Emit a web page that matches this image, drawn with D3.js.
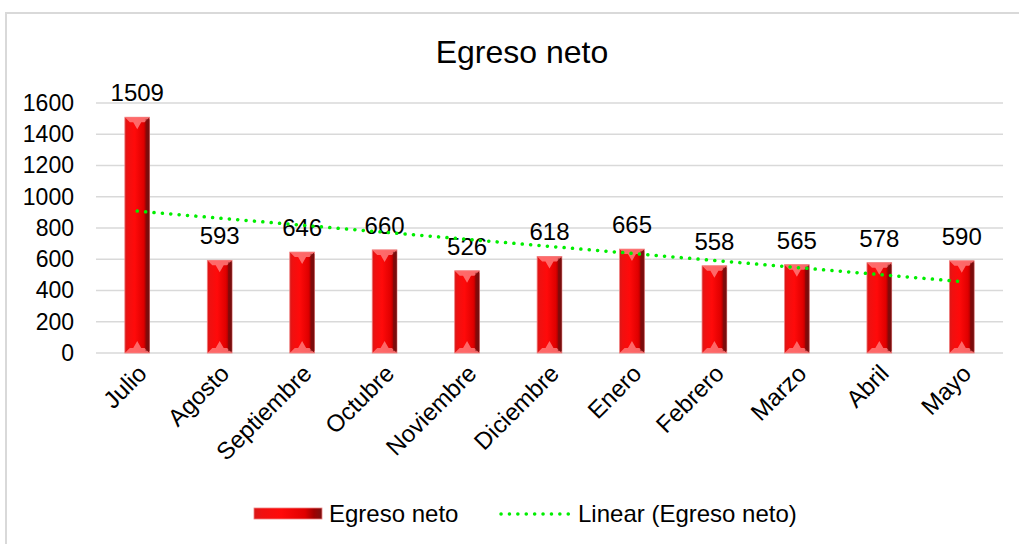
<!DOCTYPE html>
<html>
<head>
<meta charset="utf-8">
<script src="https://cdn.jsdelivr.net/npm/d3@7"></script>
<style>
  body { margin: 0; background: #fff; }
  text { font-family: "Liberation Sans", Arial, sans-serif; fill: #000; }
</style>
</head>
<body>
<script>
const months = ['Julio', 'Agosto', 'Septiembre', 'Octubre', 'Noviembre', 'Diciembre', 'Enero', 'Febrero', 'Marzo', 'Abril', 'Mayo']
const egreso = [1509, 593, 646, 660, 526, 618, 665, 558, 565, 578, 590]
const yTicks = [0, 200, 400, 600, 800, 1000, 1200, 1400, 1600]

const width = 1019
const height = 544
const padL = 96, padR = 1003, padT = 103, padB = 353

const svg = d3.select('body').append('svg').attr('width', width).attr('height', height)

// outer chart border
svg.append('rect').attr('x', 6).attr('y', 13).attr('width', 1030).attr('height', 560)
  .attr('fill', 'none').attr('stroke', '#d9d9d9').attr('stroke-width', 2)

const defs = svg.append('defs')
const grad = defs.append('linearGradient').attr('id', 'barGrad').attr('x1', 0).attr('x2', 1).attr('y1', 0).attr('y2', 0)
grad.append('stop').attr('offset', '0%').attr('stop-color', '#d81818')
grad.append('stop').attr('offset', '12%').attr('stop-color', '#f01010')
grad.append('stop').attr('offset', '40%').attr('stop-color', '#ff0a0a')
grad.append('stop').attr('offset', '75%').attr('stop-color', '#e00000')
grad.append('stop').attr('offset', '88%').attr('stop-color', '#a00000')
grad.append('stop').attr('offset', '100%').attr('stop-color', '#7a1010')

const x = d3.scaleBand().domain(months).range([padL, padR]).paddingInner(0.7).paddingOuter(0.35)
const y = d3.scaleLinear().domain([0, 1600]).range([padB, padT])

// grid
svg.append('g').selectAll('line').data(yTicks).enter().append('line')
  .attr('x1', padL).attr('x2', padR)
  .attr('y1', d => y(d)).attr('y2', d => y(d))
  .attr('stroke', '#d9d9d9').attr('stroke-width', 1.3)

// y axis labels
const yAxis = d3.axisLeft(y).tickValues(yTicks).tickSize(0).tickPadding(22).tickFormat(d3.format('d'))
const yg = svg.append('g').attr('transform', `translate(${padL},0)`).call(yAxis)
yg.select('.domain').remove()
yg.selectAll('text').style('font-size', '23px').style('font-family', '"Liberation Sans", Arial, sans-serif').attr('fill', '#000')

// bars
const bw = x.bandwidth()
const bars = svg.append('g').selectAll('g').data(egreso).enter().append('g')
  .attr('transform', (d, i) => `translate(${x(months[i])},0)`)

bars.append('rect')
  .attr('x', 0).attr('width', bw)
  .attr('y', d => y(d)).attr('height', d => y(0) - y(d))
  .attr('fill', 'url(#barGrad)')
  .attr('stroke', '#f08080').attr('stroke-width', 0.8)

// top bevel
bars.append('path')
  .attr('d', d => `M0,${y(d)} L${bw},${y(d)} L${bw - 5},${y(d) + 5} L${bw / 2 + 4},${y(d) + 5} L${bw / 2},${y(d) + 12} L${bw / 2 - 4},${y(d) + 5} L5,${y(d) + 5} Z`)
  .attr('fill', '#ff7a7a').attr('opacity', 0.85)
// bottom bevel
bars.append('path')
  .attr('d', () => `M0,${y(0)} L${bw},${y(0)} L${bw - 5},${y(0) - 5} L${bw / 2 + 4},${y(0) - 5} L${bw / 2},${y(0) - 12} L${bw / 2 - 4},${y(0) - 5} L5,${y(0) - 5} Z`)
  .attr('fill', '#ff8080').attr('opacity', 0.8)
// right side dark edge
bars.append('rect')
  .attr('x', bw - 4).attr('width', 4)
  .attr('y', d => y(d) + 2).attr('height', d => y(0) - y(d) - 4)
  .attr('fill', '#6e1010').attr('opacity', 0.6)

// data labels
bars.append('text')
  .attr('x', bw / 2).attr('y', d => y(d) - 16)
  .attr('text-anchor', 'middle').style('font-size', '24px')
  .text(d => d)

// linear trend
const n = egreso.length
const xs = d3.range(1, n + 1)
const mx = d3.mean(xs), my = d3.mean(egreso)
const slope = d3.sum(xs, (v, i) => (v - mx) * (egreso[i] - my)) / d3.sum(xs, v => (v - mx) ** 2)
const icpt = my - slope * mx
const trend = [1, n].map(v => [x(months[v - 1]) + bw / 2, y(icpt + slope * v)])
svg.append('path').attr('d', d3.line()(trend))
  .attr('fill', 'none').attr('stroke', '#00ee00').attr('stroke-width', 3.5)
  .attr('stroke-dasharray', '0.1 8.3').attr('stroke-linecap', 'round')

// x labels
svg.append('g').selectAll('text').data(months).enter().append('text')
  .attr('transform', d => `translate(${x(d) + bw / 2 + 11},${padB + 22}) rotate(-45)`)
  .attr('text-anchor', 'end').style('font-size', '24px')
  .text(d => d)

// title
svg.append('text').attr('x', 522).attr('y', 63).attr('text-anchor', 'middle')
  .style('font-size', '32px').text('Egreso neto')

// legend
const lg = svg.append('g')
lg.append('rect').attr('x', 254).attr('y', 508).attr('width', 68).attr('height', 11)
  .attr('fill', 'url(#barGrad)').attr('stroke', '#f08080').attr('stroke-width', 0.8)
lg.append('text').attr('x', 329).attr('y', 522).style('font-size', '24px').text('Egreso neto')
lg.append('line').attr('x1', 501).attr('x2', 570).attr('y1', 514).attr('y2', 514)
  .attr('stroke', '#00ee00').attr('stroke-width', 3.5)
  .attr('stroke-dasharray', '0.1 8.3').attr('stroke-linecap', 'round')
lg.append('text').attr('x', 578).attr('y', 522).style('font-size', '24px').text('Linear (Egreso neto)')
</script>
</body>
</html>
